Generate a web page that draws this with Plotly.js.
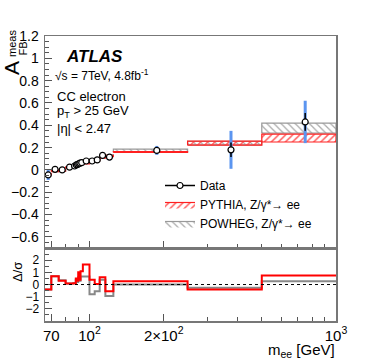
<!DOCTYPE html>
<html><head><meta charset="utf-8">
<script src="https://cdn.plot.ly/plotly-3.0.1.min.js"></script>
<style>body{margin:0;background:#fff}#c{width:374px;height:361px}</style>
</head><body><div id="c"></div>
<script>
const binEdges = [66,70,75,80,86,88,89,90,91,92,94,100,105,110,116,125,250,500,1000];
const dataAfb   = [-0.045,0.005,0.0,0.025,0.035,0.045,0.05,0.055,0.06,0.065,0.08,0.08,0.09,0.13,0.115,0.175,0.18,0.43];
const dataStat  = [0.02,0.012,0.01,0.008,0.008,0.008,0.008,0.008,0.008,0.008,0.01,0.012,0.014,0.016,0.016,0.015,0.065,0.08];
const dataTot   = [0.045,0.02,0.018,0.012,0.012,0.012,0.012,0.012,0.012,0.012,0.015,0.02,0.022,0.025,0.028,0.04,0.17,0.19];
const pythiaAfb = [-0.04,-0.01,-0.005,0.02,0.032,0.035,0.042,0.045,0.05,0.055,0.06,0.072,0.088,0.11,0.125,0.16,0.24,0.285];
const pythiaErr = [0.005,0.005,0.005,0.005,0.005,0.005,0.005,0.005,0.005,0.005,0.005,0.005,0.005,0.005,0.005,0.004,0.018,0.035];
const powhegAfb = [-0.04,-0.01,-0.005,0.02,0.033,0.038,0.045,0.05,0.055,0.06,0.07,0.095,0.1,0.115,0.13,0.175,0.24,0.375];
const powhegErr = [0.005,0.005,0.005,0.005,0.005,0.005,0.005,0.005,0.005,0.005,0.005,0.005,0.005,0.005,0.005,0.012,0.015,0.045];
const ratioPythia = [-0.4,0.67,0.3,0.08,0.1,0.5,0.3,1.0,0.4,1.1,1.65,0.4,0.05,0.6,-0.55,0.27,-0.4,0.75];
const ratioPowheg = [-0.4,0.67,0.35,0.08,0.1,0.4,0.2,0.6,0.3,0.65,0.65,-0.8,-0.55,0.4,-0.95,0.0,-0.27,0.27];
const xTickVals = [70,100,200,1000];
const xTickText = ['70','10<sup>2</sup>','2×10<sup>2</sup>','10<sup>3</sup>'];
const xMinorVals = [70,80,90,300,400,500,600,700,800,900];

const centers = binEdges.slice(0,-1).map((e,i)=>(e+binEdges[i+1])/2);
function boxes(vals, errs){
  const x=[],y=[];
  vals.forEach((v,i)=>{
    const a=binEdges[i], b=binEdges[i+1];
    x.push(a,b,b,a,a,null); y.push(v-errs[i],v-errs[i],v+errs[i],v+errs[i],v-errs[i],null);
  });
  return {x,y};
}
function steps(vals){
  return {x: binEdges.slice(), y: vals.concat([vals[vals.length-1]])};
}
const pw = boxes(powhegAfb, powhegErr), py = boxes(pythiaAfb, pythiaErr);
const rp = steps(ratioPythia), rw = steps(ratioPowheg);
const font = 'Liberation Sans, Arial, sans-serif';

const traces = [
 {x:pw.x, y:pw.y, xaxis:'x', yaxis:'y', mode:'lines', fill:'toself', name:'POWHEG, Z/γ*→ ee',
  line:{color:'#999',width:1.2}, fillcolor:'rgba(0,0,0,0)',
  fillpattern:{shape:'\\', fgcolor:'#aaa', bgcolor:'rgba(255,255,255,0)', size:5, solidity:0.25}, legendrank:3},
 {x:py.x, y:py.y, xaxis:'x', yaxis:'y', mode:'lines', fill:'toself', name:'PYTHIA, Z/γ*→ ee',
  line:{color:'#ff2020',width:1.2}, fillcolor:'rgba(0,0,0,0)',
  fillpattern:{shape:'/', fgcolor:'#ff6060', bgcolor:'rgba(255,255,255,0)', size:5, solidity:0.3}, legendrank:2},
 {x:centers, y:dataAfb, xaxis:'x', yaxis:'y', mode:'markers', showlegend:false,
  marker:{size:1,color:'rgba(0,0,0,0)'},
  error_y:{type:'data', array:dataTot, color:'#5b95f0', thickness:3, width:0}},
 {x:centers, y:dataAfb, xaxis:'x', yaxis:'y', mode:'markers', showlegend:false,
  marker:{symbol:'circle', size:6, color:'#fff', line:{color:'#000',width:1.2}},
  error_y:{type:'data', array:dataStat, color:'#000', thickness:1.5, width:0}},
 {x:[null], y:[null], xaxis:'x', yaxis:'y', mode:'lines+markers', name:'Data', legendrank:1,
  line:{color:'#000',width:1.5}, marker:{symbol:'circle', size:6, color:'#fff', line:{color:'#000',width:1.2}}},
 {x:rw.x, y:rw.y, xaxis:'x2', yaxis:'y2', mode:'lines', line:{shape:'hv', color:'#888', width:2}, showlegend:false},
 {x:rp.x, y:rp.y, xaxis:'x2', yaxis:'y2', mode:'lines', line:{shape:'hv', color:'#ff0000', width:2}, showlegend:false}
];

const H=285, W=291, L=45, T=36;
const px = v=>(v-L)/W, pyy = v=>(T+H-v)/H;
const axLine = {showline:true, linecolor:'#777', linewidth:1.5, mirror:true, showgrid:false, zeroline:false};
const layout = {
  width:374, height:361, margin:{l:45,r:38,t:36,b:40},
  paper_bgcolor:'#fff', plot_bgcolor:'#fff',
  font:{family:font, color:'#000', size:14},
  showlegend:true,
  legend:{x:px(160), y:pyy(171), xanchor:'left', yanchor:'top', bgcolor:'rgba(0,0,0,0)',
          font:{size:12, family:font}, tracegroupgap:0, itemwidth:30},
  xaxis:Object.assign({type:'log', range:[Math.log10(66),3], anchor:'y', matches:'x2',
     tickvals:xTickVals, ticktext:xTickText, showticklabels:false, ticks:'inside', ticklen:7, tickcolor:'#555',
     minor:{tickmode:'array', tickvals:xMinorVals, ticks:'inside', ticklen:4, tickcolor:'#555'}}, axLine),
  yaxis:Object.assign({domain:[0.256,1], range:[-0.7,1.2], anchor:'x', tickvals:[-0.6,-0.4,-0.2,0,0.2,0.4,0.6,0.8,1,1.2],
     ticktext:['−0.6','−0.4','−0.2','0','0.2','0.4','0.6','0.8','1','1.2'],
     ticks:'inside', ticklen:7, tickcolor:'#555', tickfont:{size:14}, ticklabelstandoff:2,
     minor:{dtick:0.05, ticks:'inside', ticklen:4, tickcolor:'#555'}}, axLine),
  xaxis2:Object.assign({type:'log', range:[Math.log10(66),3], anchor:'y2',
     tickvals:xTickVals, ticktext:xTickText, ticks:'inside', ticklen:7, tickcolor:'#555', tickfont:{size:15},
     minor:{tickmode:'array', tickvals:xMinorVals, ticks:'inside', ticklen:4, tickcolor:'#555'}}, axLine),
  yaxis2:Object.assign({domain:[0,0.256], range:[-3,3], anchor:'x2', tickvals:[-2,-1,0,1,2],
     ticktext:['−2','−1','0','1','2'], ticks:'inside', ticklen:7, tickcolor:'#555', tickfont:{size:12}, ticklabelstandoff:2,
     minor:{dtick:0.5, ticks:'inside', ticklen:4, tickcolor:'#555'}}, axLine),
  shapes:[{type:'line', xref:'x2 domain', x0:0, x1:1, yref:'y2', y0:0, y1:0, line:{color:'#000', width:1, dash:'dot'}}],
  annotations:[
    {text:'<b><i>ATLAS</i></b>', x:px(64), y:pyy(56), xref:'paper', yref:'paper', xanchor:'left', yanchor:'middle', showarrow:false, font:{size:17}},
    {text:'√s = 7TeV, 4.8fb<sup>-1</sup>', x:px(53), y:pyy(75), xref:'paper', yref:'paper', xanchor:'left', yanchor:'middle', showarrow:false, font:{size:12}},
    {text:'CC electron', x:px(55), y:pyy(96), xref:'paper', yref:'paper', xanchor:'left', yanchor:'middle', showarrow:false, font:{size:13}},
    {text:'p<sub>T</sub> > 25 GeV', x:px(55), y:pyy(111), xref:'paper', yref:'paper', xanchor:'left', yanchor:'middle', showarrow:false, font:{size:13}},
    {text:'|η| < 2.47', x:px(55), y:pyy(128), xref:'paper', yref:'paper', xanchor:'left', yanchor:'middle', showarrow:false, font:{size:13}},
    {text:'A', x:px(11), y:pyy(68), xref:'paper', yref:'paper', xanchor:'center', yanchor:'middle', textangle:-90, showarrow:false, font:{size:21}},
    {text:'FB', x:px(22.5), y:pyy(49), xref:'paper', yref:'paper', xanchor:'center', yanchor:'middle', textangle:-90, showarrow:false, font:{size:11}},
    {text:'meas', x:px(12.5), y:pyy(43.5), xref:'paper', yref:'paper', xanchor:'center', yanchor:'middle', textangle:-90, showarrow:false, font:{size:11}},
    {text:'Δ/σ', x:px(17), y:pyy(272), xref:'paper', yref:'paper', xanchor:'center', yanchor:'middle', textangle:-90, showarrow:false, font:{size:13}},
    {text:'m<sub>ee</sub> [GeV]', x:px(337), y:pyy(350), xref:'paper', yref:'paper', xanchor:'right', yanchor:'middle', showarrow:false, font:{size:15}}
  ]
};
Plotly.newPlot('c', traces, layout, {displayModeBar:false, staticPlot:true});
</script></body></html>
